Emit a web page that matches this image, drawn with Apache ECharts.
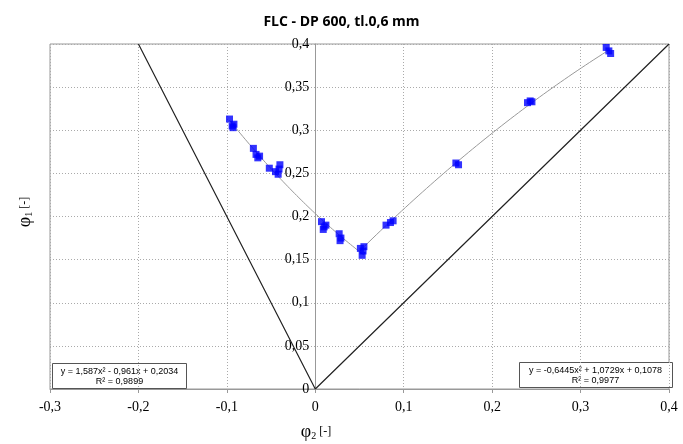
<!DOCTYPE html>
<html><head><meta charset="utf-8">
<script src="https://cdn.jsdelivr.net/npm/echarts@6/dist/echarts.min.js"></script>
<style>html,body{margin:0;padding:0;background:#fff}#c{width:683px;height:444px}</style>
</head><body><div id="c"></div>
<script>
// measured points (phi2, phi1)
const phi2 = [-0.097,-0.094,-0.092,-0.093, -0.070,-0.067,-0.065,-0.063, -0.052,-0.045,-0.042,-0.040,-0.041,
  0.007,0.010,0.012,0.009, 0.027,0.028,0.029, 0.051,0.054,0.053,0.055, 0.080,0.085,0.088,
  0.159,0.162, 0.240,0.243,0.245, 0.329,0.332,0.334];
const phi1 = [0.313,0.305,0.307,0.303, 0.279,0.272,0.268,0.270, 0.256,0.252,0.249,0.260,0.255,
  0.194,0.188,0.190,0.185, 0.180,0.172,0.175, 0.163,0.160,0.155,0.165, 0.190,0.193,0.195,
  0.262,0.260, 0.332,0.334,0.333, 0.396,0.392,0.389];
// reference lines
const refX = [-0.2, 0, 0.4];
const refY = [0.4, 0, 0.4];
// trendline coefficients (a, b, c) as printed on the chart and their x ranges
const leftCoef = [1.587, -0.961, 0.2034];
const leftRange = [-0.097, 0.055];
const rightCoef = [-0.6445, 1.0729, 0.1078];
const rightRange = [0.050, 0.334];

function trend(coef, range){
  const out=[]; const n=60;
  for(let i=0;i<=n;i++){const x=range[0]+(range[1]-range[0])*i/n; out.push([x, coef[0]*x*x+coef[1]*x+coef[2]]);}
  return out;
}
const fmt = v => String(Math.round(v*100)/100).replace('.', ',');
const chart = echarts.init(document.getElementById('c'));
const serif = 'Liberation Serif';
const gridLeft = 50, gridRight = 14;
const plotW = 683 - gridLeft - gridRight;
const zeroOffset = -plotW * (0 - (-0.3)) / 0.7;
chart.setOption({
  animation:false,
  title:{text:'FLC - DP 600, tl.0,6 mm', left:'center', top:10, textStyle:{fontFamily:'Open Sans', fontWeight:'bold', fontSize:14, color:'#000'}},
  grid:{left:gridLeft, right:gridRight, top:44, bottom:55, show:true, borderColor:'#999', borderWidth:1},
  xAxis:{type:'value', min:-0.3, max:0.4, interval:0.1,
    axisLine:{show:true, lineStyle:{color:'#999'}}, axisTick:{show:true, length:4, lineStyle:{color:'#999'}},
    axisLabel:{fontFamily:serif, fontSize:14, color:'#000', margin:11, formatter:fmt},
    splitLine:{show:true, lineStyle:{color:'#aaa', type:[1,2], width:1}}},
  yAxis:{type:'value', min:0, max:0.4, interval:0.05, position:'left', offset:zeroOffset,
    axisLine:{show:true, onZero:false, lineStyle:{color:'#999'}}, axisTick:{show:false},
    axisLabel:{fontFamily:serif, fontSize:14, color:'#000', margin:6, formatter:fmt},
    splitLine:{show:true, lineStyle:{color:'#aaa', type:[1,2], width:1}}},
  series:[
    {type:'line', data:refX.map((x,i)=>[x,refY[i]]), symbol:'none', lineStyle:{color:'#222', width:1.2}, z:2},
    {type:'line', data:trend(leftCoef,leftRange), symbol:'none', lineStyle:{color:'#999', width:1}, z:3},
    {type:'line', data:trend(rightCoef,rightRange), symbol:'none', lineStyle:{color:'#999', width:1}, z:3},
    {type:'scatter', data:phi2.map((x,i)=>[x,phi1[i]]), symbol:'rect', symbolSize:7, itemStyle:{color:'#0000ff'}, z:5}
  ],
  graphic:[
    {type:'text', x:316, y:432, style:{align:'center', verticalAlign:'middle', rich:{a:{fontFamily:serif,fontSize:18,fill:'#000'},b:{fontFamily:serif,fontSize:10,fill:'#000',padding:[8,0,0,0]},c:{fontFamily:serif,fontSize:12,fill:'#000'}}, text:'{a|φ}{b|2}{c| [-]}'}},
    {type:'text', x:25, y:212, rotation:Math.PI/2, style:{align:'center', verticalAlign:'middle', rich:{a:{fontFamily:serif,fontSize:18,fill:'#000'},b:{fontFamily:serif,fontSize:10,fill:'#000',padding:[8,0,0,0]},c:{fontFamily:serif,fontSize:12,fill:'#000'}}, text:'{a|φ}{b|1}{c| [-]}'}},
    {type:'group', left:52, top:363, children:[
      {type:'rect', shape:{x:0,y:0,width:134,height:25}, style:{fill:'#fff', stroke:'#555', lineWidth:1}},
      {type:'text', x:67, y:3, style:{text:'y = 1,587x² - 0,961x + 0,2034\nR² = 0,9899', align:'center', fontFamily:'Liberation Sans', fontSize:9, lineHeight:10, fill:'#000'}}
    ]},
    {type:'group', left:519, top:362, children:[
      {type:'rect', shape:{x:0,y:0,width:153,height:25}, style:{fill:'#fff', stroke:'#555', lineWidth:1}},
      {type:'text', x:76, y:3, style:{text:'y = -0,6445x² + 1,0729x + 0,1078\nR² = 0,9977', align:'center', fontFamily:'Liberation Sans', fontSize:9, lineHeight:10, fill:'#000'}}
    ]}
  ]
});
</script></body></html>
